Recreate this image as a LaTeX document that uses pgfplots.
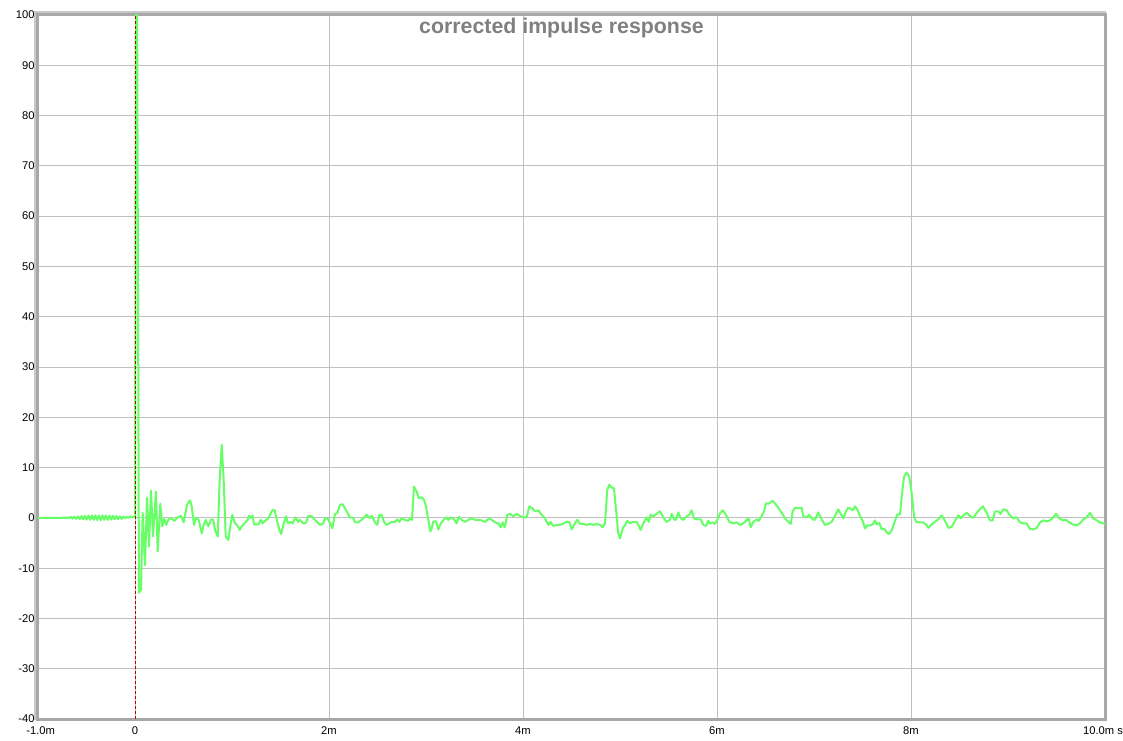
\documentclass[border=0pt]{standalone}
\usepackage{pgfplots}
\pgfplotsset{compat=1.18}
\usepackage{fontspec}
\setmainfont{Liberation Sans}
\definecolor{irgreen}{RGB}{102,255,102}
\definecolor{frame}{RGB}{168,168,168}
\definecolor{frameout}{RGB}{200,200,200}
\definecolor{gridc}{RGB}{192,192,192}
\definecolor{zeroline}{RGB}{190,0,0}
\begin{document}
\begin{tikzpicture}
\useasboundingbox (-28.5pt,-15.75pt) rectangle (813.75pt,539.25pt);
\draw[frameout, line width=1.6pt] (-2.4pt,-1pt) -- (-2.4pt,530.4pt) -- (801pt,530.4pt);
\begin{axis}[
  at={(0pt,0pt)}, anchor=south west,
  width=800.25pt, height=528pt, scale only axis,
  xmin=-1, xmax=10, ymin=-40, ymax=100,
  xtick={-1,0,2,4,6,8,10},
  xticklabels={\hspace*{4pt}-1.0m,0,2m,4m,6m,8m,10.0m s\hspace*{3pt}},
  ytick={-40,-30,-20,-10,0,10,20,30,40,50,60,70,80,90,100},
  grid=major,
  major grid style={draw=gridc, line width=0.75pt},
  tick style={draw=none},
  axis line style={draw=frame, line width=2.25pt},
  tick label style={font=\fontsize{8.4}{10}\selectfont},
  yticklabel style={/pgf/number format/assume math mode=true, xshift=1pt},
  xticklabel style={yshift=-2.5pt},
  clip=true,
]
\addplot[irgreen, line width=1.5pt, line join=round] coordinates {
(-1.000,0) (-0.750,0.0) (-0.732,0.1) (-0.714,-0.1) (-0.696,0.15) (-0.678,-0.1)
(-0.660,0.2) (-0.642,-0.15) (-0.624,0.25) (-0.606,-0.2) (-0.588,0.3) (-0.570,-0.25)
(-0.552,0.35) (-0.534,-0.3) (-0.516,0.4) (-0.498,-0.35) (-0.480,0.45) (-0.462,-0.4)
(-0.444,0.5) (-0.426,-0.4) (-0.408,0.5) (-0.390,-0.45) (-0.372,0.5) (-0.354,-0.45)
(-0.336,0.5) (-0.318,-0.4) (-0.300,0.5) (-0.282,-0.4) (-0.264,0.45) (-0.246,-0.35)
(-0.228,0.4) (-0.210,-0.3) (-0.192,0.35) (-0.174,-0.25) (-0.156,0.3) (-0.138,-0.2)
(-0.120,0.25) (-0.102,-0.1) (-0.084,0.2) (-0.066,0.0) (-0.048,0.3) (-0.030,0.1)
(-0.012,0.2) (0.000,0.3) (0.008,100) (0.022,100) (0.041,-14.9) (0.062,-14.3)
(0.079,1.0) (0.103,-9.4) (0.124,4.0) (0.144,-5.7) (0.165,5.4) (0.186,-3.7)
(0.216,5.2) (0.234,-6.7) (0.261,2.8) (0.281,-1.7) (0.302,-0.2) (0.323,-1.4)
(0.343,-0.4) (0.371,0.0) (0.405,-0.6) (0.440,0.1) (0.474,0.4) (0.502,-0.9)
(0.536,2.6) (0.567,3.5) (0.585,2.3) (0.608,-1.4) (0.629,0.0) (0.657,-0.4)
(0.688,-3.1) (0.708,-1.4) (0.729,-0.4) (0.756,-1.7) (0.784,-0.3) (0.807,-0.4)
(0.825,-2.4) (0.853,-3.7) (0.873,7.6) (0.894,14.5) (0.914,7.6) (0.935,-3.7)
(0.962,-4.4) (0.982,-1.7) (1.003,0.6) (1.031,-1.1) (1.052,-1.4) (1.079,-2.4)
(1.100,-1.7) (1.127,-1.1) (1.162,-0.4) (1.175,0.4) (1.196,0.0) (1.213,0.5)
(1.227,-1.3) (1.271,-1.3) (1.296,-0.4) (1.316,-1.1) (1.340,-0.6) (1.374,-0.1)
(1.399,0.9) (1.420,1.6) (1.440,1.5) (1.461,-0.4) (1.488,-2.3) (1.508,-3.2)
(1.529,-1.4) (1.557,0.3) (1.577,-1.1) (1.605,-0.8) (1.626,-1.1) (1.653,0.1)
(1.684,-0.8) (1.701,-0.4) (1.735,-1.1) (1.763,-1.0) (1.787,0.4) (1.822,0.3)
(1.856,-0.4) (1.907,-1.4) (1.941,-1.1) (1.959,-0.1) (1.982,0.0) (2.010,-1.0)
(2.034,-2.1) (2.062,0.8) (2.086,0.9) (2.113,2.6) (2.141,2.7) (2.182,1.3)
(2.216,0.1) (2.250,0.0) (2.268,-0.9) (2.302,-0.9) (2.353,-0.1) (2.389,0.6)
(2.423,-0.1) (2.440,0.4) (2.474,-0.9) (2.498,-1.4) (2.519,0.6) (2.543,0.6)
(2.567,-0.8) (2.595,-1.4) (2.646,-0.8) (2.680,-0.8) (2.704,-0.3) (2.725,-0.8)
(2.749,-0.1) (2.784,-0.4) (2.817,-0.6) (2.835,-0.1) (2.856,-0.4) (2.876,6.2)
(2.904,5.2) (2.925,3.9) (2.956,4.1) (2.979,3.6) (3.000,2.3) (3.024,-0.4)
(3.044,-2.7) (3.059,-2.1) (3.075,-0.7) (3.103,-0.7) (3.127,-2.3) (3.152,-1.1)
(3.186,-0.3) (3.213,0.1) (3.230,-0.4) (3.255,0.1) (3.289,-0.3) (3.316,-1.1)
(3.337,0.2) (3.368,-0.4) (3.402,-0.8) (3.436,-0.4) (3.471,-0.1) (3.505,-0.4)
(3.557,-0.4) (3.608,-0.8) (3.652,-0.1) (3.677,-0.4) (3.711,-0.9) (3.745,-1.1)
(3.770,-1.9) (3.791,-0.9) (3.811,-1.9) (3.838,0.6) (3.866,0.8) (3.900,0.3)
(3.935,0.8) (3.969,0.4) (4.003,0.1) (4.038,0.1) (4.065,2.3) (4.090,2.0)
(4.124,1.3) (4.158,1.5) (4.193,0.6) (4.227,-0.1) (4.261,-1.4) (4.285,-0.8)
(4.312,-1.6) (4.347,-1.4) (4.381,-1.4) (4.415,-1.1) (4.450,-0.8) (4.477,-0.8)
(4.502,-2.3) (4.536,-1.1) (4.560,-0.4) (4.588,-1.2) (4.622,-1.2) (4.656,-1.4)
(4.691,-1.2) (4.725,-1.4) (4.760,-1.2) (4.794,-1.4) (4.821,-1.9) (4.845,-1.1)
(4.869,5.6) (4.890,6.6) (4.914,6.0) (4.938,5.9) (4.959,1.6) (4.982,-3.1)
(5.000,-4.1) (5.028,-2.1) (5.052,-1.4) (5.075,-0.6) (5.103,-1.1) (5.137,-0.8)
(5.172,-0.8) (5.193,-1.6) (5.213,-2.4) (5.240,-1.1) (5.275,0.1) (5.296,-0.8)
(5.316,0.6) (5.343,0.3) (5.378,0.8) (5.412,1.3) (5.446,0.1) (5.481,-0.8)
(5.515,-0.4) (5.533,0.8) (5.557,-0.3) (5.577,-0.4) (5.601,1.1) (5.626,-0.1)
(5.653,-0.4) (5.687,0.3) (5.714,0.6) (5.739,1.5) (5.763,-0.1) (5.797,-0.3)
(5.832,-0.3) (5.859,-1.4) (5.887,-1.6) (5.910,-0.6) (5.928,-1.1) (5.955,-0.9)
(5.979,-1.2) (6.003,-0.4) (6.031,0.9) (6.059,1.5) (6.093,0.6) (6.127,-0.8)
(6.162,-1.1) (6.203,-0.9) (6.237,-1.4) (6.271,-1.1) (6.306,-0.4) (6.326,-0.1)
(6.347,-1.9) (6.374,-0.8) (6.409,-0.3) (6.430,-0.6) (6.461,0.4) (6.485,1.3)
(6.505,2.9) (6.529,2.8) (6.553,3.1) (6.574,3.4) (6.598,2.9) (6.632,2.0)
(6.667,1.0) (6.701,-0.1) (6.735,-0.8) (6.760,-1.2) (6.780,1.3) (6.804,2.0)
(6.838,1.9) (6.873,2.0) (6.890,0.3) (6.925,0.1) (6.951,0.6) (6.986,-0.3)
(7.010,-0.4) (7.044,1.1) (7.079,-0.3) (7.113,-1.4) (7.147,-1.2) (7.182,-0.8)
(7.216,0.4) (7.250,1.7) (7.275,0.8) (7.302,-0.1) (7.330,1.3) (7.353,2.0)
(7.371,1.9) (7.399,1.5) (7.423,2.3) (7.446,1.7) (7.474,0.4) (7.502,-0.6)
(7.526,-2.1) (7.550,-1.5) (7.577,-1.5) (7.605,-1.3) (7.629,-0.5) (7.646,-1.3)
(7.673,-1.0) (7.698,-2.3) (7.722,-2.1) (7.749,-2.9) (7.776,-3.2) (7.801,-2.5)
(7.835,-0.6) (7.858,0.7) (7.887,0.7) (7.904,4.2) (7.928,8.2) (7.955,9.0)
(7.982,8.2) (8.007,4.9) (8.031,0.4) (8.052,-0.8) (8.086,-0.9) (8.120,-0.9)
(8.155,-1.3) (8.179,-2.0) (8.213,-1.3) (8.247,-0.8) (8.281,-0.3) (8.316,0.5)
(8.351,-0.6) (8.385,-2.0) (8.419,-1.8) (8.454,-0.6) (8.488,0.5) (8.512,-0.1)
(8.539,0.5) (8.574,1.0) (8.608,0.4) (8.642,0.0) (8.677,1.0) (8.711,1.7)
(8.742,2.3) (8.780,1.0) (8.814,-0.5) (8.842,-0.5) (8.866,1.3) (8.900,1.3)
(8.924,0.8) (8.951,1.7) (8.986,1.5) (9.020,0.5) (9.054,-0.1) (9.089,0.1)
(9.124,-0.9) (9.158,-1.1) (9.192,-1.1) (9.227,-2.2) (9.261,-2.3) (9.296,-2.0)
(9.330,-0.9) (9.364,-0.5) (9.399,-0.7) (9.433,-0.5) (9.467,0.1) (9.495,0.8)
(9.529,-0.1) (9.564,-0.5) (9.598,-0.4) (9.632,-0.9) (9.667,-1.3) (9.708,-1.5)
(9.742,-1.1) (9.776,-0.3) (9.811,0.1) (9.845,1.0) (9.880,-0.1) (9.914,-0.5)
(9.948,-0.9) (9.983,-1.1) (10.000,-1.1)
};
\addplot[zeroline, line width=0.7pt, dash pattern=on 2.25pt off 1.5pt] coordinates {(0,-40) (0,100)};
\node[text=black!50, font=\bfseries\fontsize{16}{19}\selectfont, anchor=center]
  at (rel axis cs:0.4906,1) [yshift=-10pt] {corrected impulse response};
\node[font=\fontsize{8.4}{10}\selectfont, anchor=center]
  at (rel axis cs:0,1) [xshift=-7.5pt, yshift=7.5pt] {\%};
\end{axis}
\end{tikzpicture}
\end{document}
